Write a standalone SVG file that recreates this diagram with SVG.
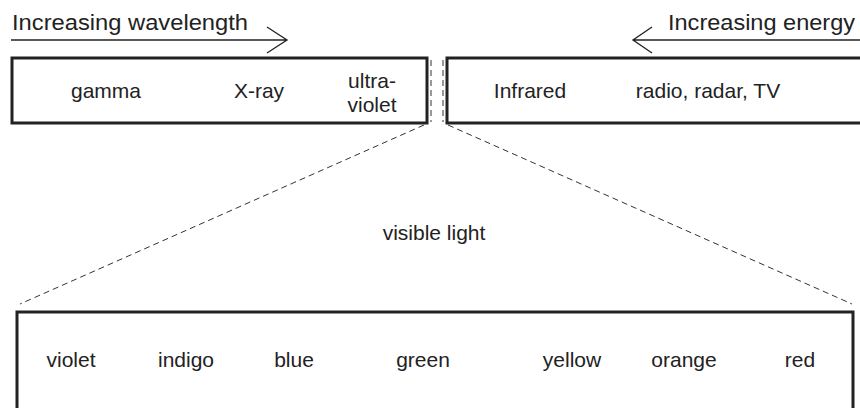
<svg xmlns="http://www.w3.org/2000/svg" width="860" height="408" viewBox="0 0 860 408">
  <style>
    text { font-family: "Liberation Sans", Arial, sans-serif; font-size: 21px; fill: #222; }
    .head { font-size: 22px; }
    .mid { text-anchor: middle; }
    .box { fill: none; stroke: #222; stroke-width: 3; }
    .arrow { fill: none; stroke: #222; stroke-width: 1.3; }
    .dash { fill: none; stroke: #333; stroke-width: 1; stroke-dasharray: 6 4; }
  </style>
  <rect width="860" height="408" fill="#fff"/>

  <!-- direction arrows -->
  <g id="wavelength">
    <text class="head" x="12" y="30" textLength="236" lengthAdjust="spacingAndGlyphs">Increasing wavelength</text>
    <path class="arrow" d="M11 40 H287 M267 27 L287 40 L267 53"/>
  </g>
  <g id="energy">
    <text class="head" x="668" y="30" textLength="187" lengthAdjust="spacingAndGlyphs">Increasing energy</text>
    <path class="arrow" d="M860 40 H633 M652 27 L633 40 L652 53"/>
  </g>

  <!-- spectrum, short wavelengths -->
  <g id="short-band">
    <rect class="box" x="12" y="58" width="415" height="65"/>
    <text class="mid" x="106" y="98">gamma</text>
    <text class="mid" x="259" y="98">X-ray</text>
    <text class="mid" x="372" y="88">ultra-</text>
    <text class="mid" x="372" y="112">violet</text>
  </g>

  <!-- spectrum, long wavelengths -->
  <g id="long-band">
    <rect class="box" x="447" y="58" width="420" height="65"/>
    <text class="mid" x="530" y="98">Infrared</text>
    <text class="mid" x="708" y="98">radio, radar, TV</text>
  </g>

  <!-- connectors: visible window and zoom lines -->
  <g id="connectors">
    <path class="dash" d="M431 60 V122 M443 60 V122"/>
    <path class="dash" d="M424 125 L20 304"/>
    <path class="dash" d="M448 125 L852 304"/>
  </g>

  <g id="visible-label">
    <text class="mid" x="434" y="240">visible light</text>
  </g>

  <!-- visible light band -->
  <g id="visible-band">
    <rect class="box" x="17" y="312" width="836" height="120"/>
    <text class="mid" x="71" y="367">violet</text>
    <text class="mid" x="186" y="367">indigo</text>
    <text class="mid" x="294" y="367">blue</text>
    <text class="mid" x="423" y="367">green</text>
    <text class="mid" x="572" y="367">yellow</text>
    <text class="mid" x="684" y="367">orange</text>
    <text class="mid" x="800" y="367">red</text>
  </g>
</svg>
